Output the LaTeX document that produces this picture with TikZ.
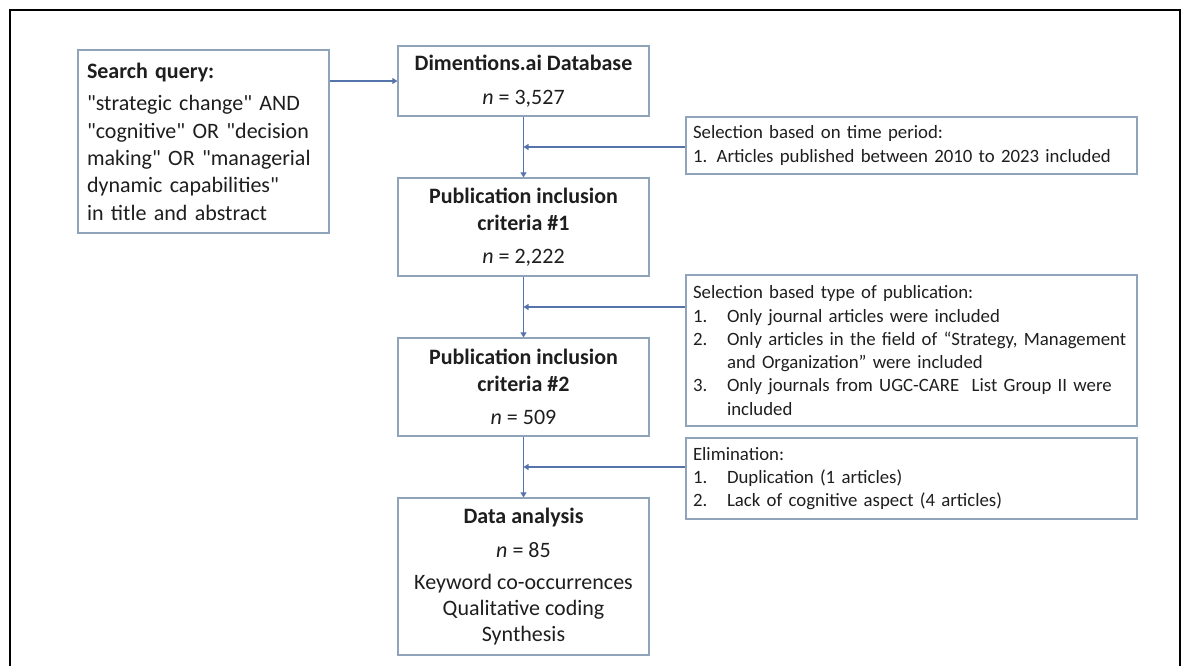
\documentclass[tikz,border=0pt]{standalone}
\usepackage{fontspec}
\setmainfont{Carlito}[Ligatures=TeXOff]
\usetikzlibrary{arrows.meta,calc}

\definecolor{boxline}{RGB}{143,163,186}
\definecolor{flow}{RGB}{84,116,170}
\definecolor{ink}{RGB}{30,30,30}

\tikzset{
  x=1pt, y=-1pt,
  basebox/.style={draw=boxline, line width=1.3pt, text=ink, inner sep=0pt},
  stagebox/.style={basebox, minimum width=251pt, align=center,
    font=\fontsize{22}{26.8}\selectfont},
  notebox/.style={basebox, minimum width=451pt, text width=437pt, align=left,
    font=\fontsize{18.8}{23.3}\selectfont},
  flowline/.style={draw=flow, line width=1.1pt},
  flowarrow/.style={flowline, -{Triangle[length=5pt,width=6pt]}}
}
\newcommand{\itemno}[1]{\makebox[34pt][l]{#1}}
\hyphenpenalty=10000
\exhyphenpenalty=10000

\begin{document}
\begin{tikzpicture}
\useasboundingbox (0,0) rectangle (1182,666);

% outer frame, open at the bottom
\draw[line width=2.6pt] (10,666) -- (10,10) -- (1180,10) -- (1180,666);

% search query
\node[basebox, minimum width=251pt, minimum height=183pt, text width=233pt,
      align=left, font=\fontsize{22}{27.3}\selectfont] (query) at (203.5,141.5)
  {\textbf{Search query:}\\[5.5pt]
   "strategic change" AND\\
   "cognitive" OR "decision\\
   making" OR "managerial\\
   dynamic capabilities"\\
   in title and abstract};

% main stages
\node[stagebox, minimum height=70pt] (dim) at (523.5,81)
  {\textbf{Dimentions.ai Database}\\[7pt]\textit{n} = 3,527};
\node[stagebox, minimum height=98pt] (pub1) at (523.5,227)
  {\textbf{Publication inclusion}\\\textbf{criteria \#1}\\[6pt]\textit{n} = 2,222};
\node[stagebox, minimum height=98pt] (pub2) at (523.5,387)
  {\textbf{Publication inclusion}\\\textbf{criteria \#2}\\[6pt]\textit{n} = 509};
\node[stagebox, minimum height=157pt] (data) at (523.5,576.5)
  {\textbf{Data analysis}\\[7pt]\textit{n} = 85\\[6pt]
   Keyword co-occurrences\\[-1pt]Qualitative coding\\[-1pt]Synthesis};

% selection notes
\node[notebox, minimum height=57pt] (sel1) at (911.5,145.5)
  {Selection based on time period:\\
   1. Articles published between 2010 to 2023 included};
\node[notebox, minimum height=151pt] (sel2) at (911.5,350.5)
  {Selection based type of publication:\\
   \itemno{1.}Only journal articles were included\\
   \itemno{2.}Only articles in the field of “Strategy, Management\\
   \itemno{}and Organization” were included\\
   \itemno{3.}Only journals from UGC-CARE\ \ List Group II were\\
   \itemno{}included};
\node[notebox, minimum height=81pt] (elim) at (911.5,478.5)
  {Elimination:\\
   \itemno{1.}Duplication (1 articles)\\
   \itemno{2.}Lack of cognitive aspect (4 articles)};

% junctions on the main flow
\coordinate (j1) at ($(dim.south)!0.5!(pub1.north)$);
\coordinate (j2) at ($(pub1.south)!0.5!(pub2.north)$);
\coordinate (j3) at ($(pub2.south)!0.5!(data.north)$);

% connectors
\draw[flowarrow] (query.east |- dim.west) -- (dim.west);
\draw[flowarrow] (dim.south) -- (pub1.north);
\draw[flowarrow] (pub1.south) -- (pub2.north);
\draw[flowarrow] (pub2.south) -- (data.north);
\draw[flowarrow] (sel1.west |- j1) -- (j1);
\draw[flowarrow] (sel2.west |- j2) -- (j2);
\draw[flowarrow] (elim.west |- j3) -- (j3);
\end{tikzpicture}
\end{document}
